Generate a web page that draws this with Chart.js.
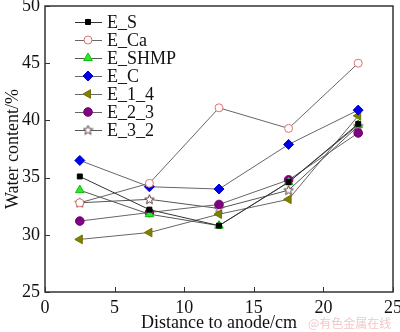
<!DOCTYPE html>
<html><head><meta charset="utf-8">
<script src="https://cdn.jsdelivr.net/npm/chart.js@4/dist/chart.umd.min.js"></script>
<style>html,body{margin:0;padding:0;background:#fff}#wrap{position:relative;width:400px;height:332px}</style>
</head><body><div id="wrap"><canvas id="c" width="400" height="332"></canvas></div>
<script>
const distances = [2.5, 7.5, 12.5, 17.5, 22.5];
const E_S    = [35.1, 32.2, 30.8, 34.6, 39.7];
const E_Ca   = [32.8, 34.5, 41.1, 39.3, 45.0];
const E_SHMP = [33.9, 31.8, 30.8, 34.6, 39.6];
const E_C    = [36.5, 34.2, 34.0, 37.9, 40.9];
const E_1_4  = [29.6, 30.2, 31.8, 33.1, 40.4];
const E_2_3  = [31.2, 31.95, 32.65, 34.8, 38.9];
const E_3_2  = [32.8, 33.1, 32.3, 33.9, 39.5];
const seriesNames = ['E_S','E_Ca','E_SHMP','E_C','E_1_4','E_2_3','E_3_2'];
const xTicks = [0, 5, 10, 15, 20, 25];
const yTicks = [25, 30, 35, 40, 45, 50];

function starCanvas(){
  const c = document.createElement('canvas'); c.width = 11; c.height = 11;
  const g = c.getContext('2d');
  g.beginPath();
  for (let i = 0; i < 10; i++) {
    const r = i % 2 === 0 ? 5 : 2.2;
    const a = -Math.PI/2 + i*Math.PI/5;
    const px = 5.5 + r*Math.cos(a), py = 5.8 + r*Math.sin(a);
    if (i === 0) g.moveTo(px, py); else g.lineTo(px, py);
  }
  g.closePath(); g.fillStyle = '#fff'; g.fill();
  g.strokeStyle = '#5a3a3a'; g.lineWidth = 1; g.stroke();
  return c;
}
const star = starCanvas();

const styles = [
  {pointStyle:'rect', bg:'#000', bd:'#000', r:3.5, rot:0},
  {pointStyle:'circle', bg:'#fff', bd:'#e07070', r:4, rot:0},
  {pointStyle:'triangle', bg:'#22ee22', bd:'#11bb11', r:5, rot:0},
  {pointStyle:'rectRot', bg:'#0000ee', bd:'#0000cc', r:5, rot:0},
  {pointStyle:'triangle', bg:'#808000', bd:'#707000', r:5, rot:-90},
  {pointStyle:'circle', bg:'#800080', bd:'#700070', r:4.3, rot:0},
  {pointStyle:star, bg:'#fff', bd:'#5a3a3a', r:5, rot:0}
];
const values = [E_S, E_Ca, E_SHMP, E_C, E_1_4, E_2_3, E_3_2];
const lineColors = ['#333','#666','#555','#666','#666','#666','#555'];

const datasets = values.map((v, i) => ({
  label: seriesNames[i],
  data: v.map((y, j) => ({x: distances[j], y})),
  borderColor: lineColors[i],
  borderWidth: 1,
  pointStyle: styles[i].pointStyle,
  pointBackgroundColor: styles[i].bg,
  pointBorderColor: styles[i].bd,
  pointBorderWidth: 1,
  pointRadius: styles[i].r,
  pointRotation: styles[i].rot,
  tension: 0,
  fill: false
}));

const serif = '"Liberation Serif", "Times New Roman", serif';

const frame = {
  id: 'frame',
  afterDraw(chart){
    const {ctx, chartArea: a, scales} = chart;
    ctx.save();
    ctx.strokeStyle = '#333'; ctx.lineWidth = 1.5;
    ctx.strokeRect(a.left, a.top, a.right - a.left, a.bottom - a.top);
    ctx.lineWidth = 1;
    ctx.beginPath();
    xTicks.forEach(t => { const px = Math.round(scales.x.getPixelForValue(t)) + 0.5;
      ctx.moveTo(px, a.bottom); ctx.lineTo(px, a.bottom - 5); });
    yTicks.forEach(t => { const py = Math.round(scales.y.getPixelForValue(t)) + 0.5;
      ctx.moveTo(a.left, py); ctx.lineTo(a.left + 5, py); });
    ctx.stroke();
    // legend
    ctx.font = '18px ' + serif;
    ctx.textBaseline = 'middle';
    chart.data.datasets.forEach((ds, i) => {
      const y = 22 + i*18;
      ctx.strokeStyle = ds.borderColor; ctx.lineWidth = 1;
      ctx.beginPath(); ctx.moveTo(75, y + 0.5); ctx.lineTo(102, y + 0.5); ctx.stroke();
      ctx.fillStyle = ds.pointBackgroundColor; ctx.strokeStyle = ds.pointBorderColor;
      Chart.helpers.drawPoint(ctx, {pointStyle: ds.pointStyle, rotation: ds.pointRotation,
        radius: ds.pointRadius, borderWidth: 1}, 88, y);
      ctx.fillStyle = '#111';
      ctx.fillText(ds.label, 107, y + 1);
    });
    // watermark
    ctx.font = '12px "Noto Sans CJK SC"';
    ctx.fillStyle = 'rgba(235,150,150,0.55)';
    ctx.textBaseline = 'middle';
    ctx.fillText('@有色金属在线', 308, 323);
    ctx.restore();
  }
};

new Chart(document.getElementById('c'), {
  type: 'line',
  data: { datasets },
  options: {
    responsive: false,
    animation: false,
    layout: { padding: { top: 6, right: 7, left: 0, bottom: 0 } },
    plugins: { legend: { display: false }, tooltip: { enabled: false } },
    scales: {
      x: {
        type: 'linear', min: 0, max: 25,
        afterBuildTicks: s => { s.ticks = xTicks.map(v => ({value: v})); },
        afterFit: s => { s.height = 40; s.paddingLeft = 0; s.paddingRight = 0; },
        grid: { display: false, drawTicks: false },
        border: { display: false },
        ticks: { padding: 5, color: '#111', font: { family: serif, size: 18 } },
        title: { display: true, text: 'Distance to anode/cm', color: '#111',
          font: { family: serif, size: 18, lineHeight: 1 }, padding: { top: 0, bottom: 0 } }
      },
      y: {
        type: 'linear', min: 25, max: 50,
        afterBuildTicks: s => { s.ticks = yTicks.map(v => ({value: v})); },
        afterFit: s => { s.width = 45; s.paddingTop = 0; s.paddingBottom = 0; },
        grid: { display: false, drawTicks: false },
        border: { display: false },
        ticks: { padding: 5, color: '#111', font: { family: serif, size: 18 } },
        title: { display: true, text: 'Water content/%', color: '#111',
          font: { family: serif, size: 18 }, padding: { top: 2, bottom: 0 } }
      }
    }
  },
  plugins: [frame]
});
</script></body></html>
